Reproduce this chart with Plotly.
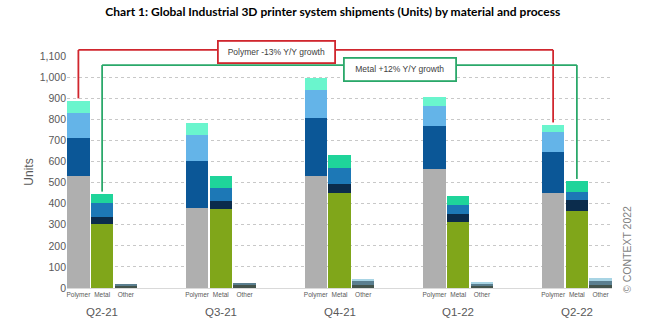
import plotly.graph_objects as go

quarters = ["Q2-21", "Q3-21", "Q4-21", "Q1-22", "Q2-22"]
sub_labels = ["Polymer", "Metal", "Other"]

# Polymer segments (bottom -> top)
poly_gray = [533, 379, 533, 565, 450]
poly_dark = [177, 225, 272, 203, 197]
poly_light = [121, 120, 134, 95, 95]
poly_aqua = [56, 57, 55, 44, 31]

# Metal segments (bottom -> top)
metal_green = [304, 374, 450, 311, 363]
metal_navy = [35, 39, 42, 41, 52]
metal_mid = [63, 60, 76, 42, 42]
metal_teal = [43, 60, 63, 43, 48]

# Other segments (bottom -> top)
other_dark = [12, 14, 14, 14, 14]
other_slate = [8, 10, 18, 8, 20]
other_light = [0, 0, 10, 2, 12]

title_text = "Chart 1: Global Industrial 3D printer system shipments (Units) by material and process"
poly_note = "Polymer -13% Y/Y growth"
metal_note = "Metal +12% Y/Y growth"
credit = "© CONTEXT 2022"

GROUP = 5
pos_poly = [GROUP * i + 0 for i in range(len(quarters))]
pos_metal = [GROUP * i + 1 for i in range(len(quarters))]
pos_other = [GROUP * i + 2 for i in range(len(quarters))]

W = 0.94
fig = go.Figure()

def add(xs, ys, color, name):
    fig.add_trace(go.Bar(x=xs, y=ys, width=W, marker=dict(color=color, line=dict(width=0)),
                         name=name, showlegend=False))

add(pos_poly, poly_gray, "#afafaf", "Polymer 1")
add(pos_poly, poly_dark, "#0b5797", "Polymer 2")
add(pos_poly, poly_light, "#64b4e8", "Polymer 3")
add(pos_poly, poly_aqua, "#6af5cd", "Polymer 4")
add(pos_metal, metal_green, "#80a61a", "Metal 1")
add(pos_metal, metal_navy, "#0b2c4c", "Metal 2")
add(pos_metal, metal_mid, "#1d78b6", "Metal 3")
add(pos_metal, metal_teal, "#1fd49a", "Metal 4")
add(pos_other, other_dark, "#44544c", "Other 1")
add(pos_other, other_slate, "#5b7f8f", "Other 2")
add(pos_other, other_light, "#a8d4e4", "Other 3")

YMAX = 1100
tickvals = []
ticktext = []
for i in range(len(quarters)):
    tickvals += [pos_poly[i], pos_metal[i], pos_other[i]]
    ticktext += sub_labels

fig.update_layout(
    barmode="stack",
    width=650, height=328,
    margin=dict(l=67, r=38, t=56, b=40),
    paper_bgcolor="white", plot_bgcolor="white",
    font=dict(family="Liberation Sans, Arial, sans-serif", color="#595959"),
    title=dict(text="<b>" + title_text + "</b>", x=0.512, xanchor="center", y=0.963, yanchor="middle",
               font=dict(family="Lato, Carlito, sans-serif", size=12, color="#000000")),
    bargap=0,
)
fig.update_xaxes(
    range=[-0.48, GROUP * (len(quarters) - 1) + 2.48],
    tickmode="array", tickvals=tickvals, ticktext=ticktext,
    tickfont=dict(size=6.5, color="#595959"), ticks="", showgrid=False,
    showline=True, linecolor="#d9d9d9", linewidth=1, zeroline=False,
)
fig.update_yaxes(
    range=[0, YMAX], dtick=100, tickformat=",d",
    tickfont=dict(size=10.5, color="#595959"),
    showgrid=True, gridcolor="#c8c8c8", griddash="dot", gridwidth=1,
    zeroline=False, showline=False, ticks="",
    title=dict(text="Units", font=dict(size=12, color="#595959"), standoff=3),
)

# quarter labels under each group
for i, q in enumerate(quarters):
    fig.add_annotation(x=pos_metal[i], y=-0.105, xref="x", yref="paper", text=q, showarrow=False,
                       font=dict(size=11.5, color="#595959"), xanchor="center", yanchor="middle")

# bracket lines
poly_tot = [a + b + c + d for a, b, c, d in zip(poly_gray, poly_dark, poly_light, poly_aqua)]
metal_tot = [a + b + c + d for a, b, c, d in zip(metal_green, metal_navy, metal_mid, metal_teal)]
red_top = 1.026
green_top = 0.961
gapv = 12
red = "#d0262e"
green = "#2aa86a"
def bracket(x0, x1, y0, y1, ytop, color):
    fig.add_shape(type="line", xref="x", yref="paper", x0=x0, x1=x0, y0=y0 / YMAX, y1=ytop,
                  line=dict(color=color, width=1.8))
    fig.add_shape(type="line", xref="x", yref="paper", x0=x0, x1=x1, y0=ytop, y1=ytop,
                  line=dict(color=color, width=1.8))
    fig.add_shape(type="line", xref="x", yref="paper", x0=x1, x1=x1, y0=y1 / YMAX, y1=ytop,
                  line=dict(color=color, width=1.8))

bracket(pos_poly[0], pos_poly[-1], poly_tot[0] + gapv, poly_tot[-1] + gapv, red_top, red)
bracket(pos_metal[0], pos_metal[-1], metal_tot[0] + gapv, metal_tot[-1] + gapv, green_top, green)

fig.add_annotation(x=0.385, y=1.019, xref="paper", yref="paper", text=poly_note, showarrow=False,
                   font=dict(size=8.5, color="#404040"), bgcolor="white", bordercolor=red,
                   borderwidth=1.8, borderpad=1, width=113, height=18, xanchor="center", yanchor="middle")
fig.add_annotation(x=0.611, y=0.94, xref="paper", yref="paper", text=metal_note, showarrow=False,
                   font=dict(size=8.5, color="#404040"), bgcolor="white", bordercolor=green,
                   borderwidth=1.8, borderpad=1, width=108, height=19, xanchor="center", yanchor="middle")

fig.add_annotation(x=(627 - 67) / (650 - 67 - 38), y=(288 - 250) / (328 - 56 - 40),
                   xref="paper", yref="paper", text=credit, showarrow=False,
                   textangle=-90, font=dict(size=10.5, color="#7f7f7f"), xanchor="center", yanchor="middle")

fig.write_html("out.html")
